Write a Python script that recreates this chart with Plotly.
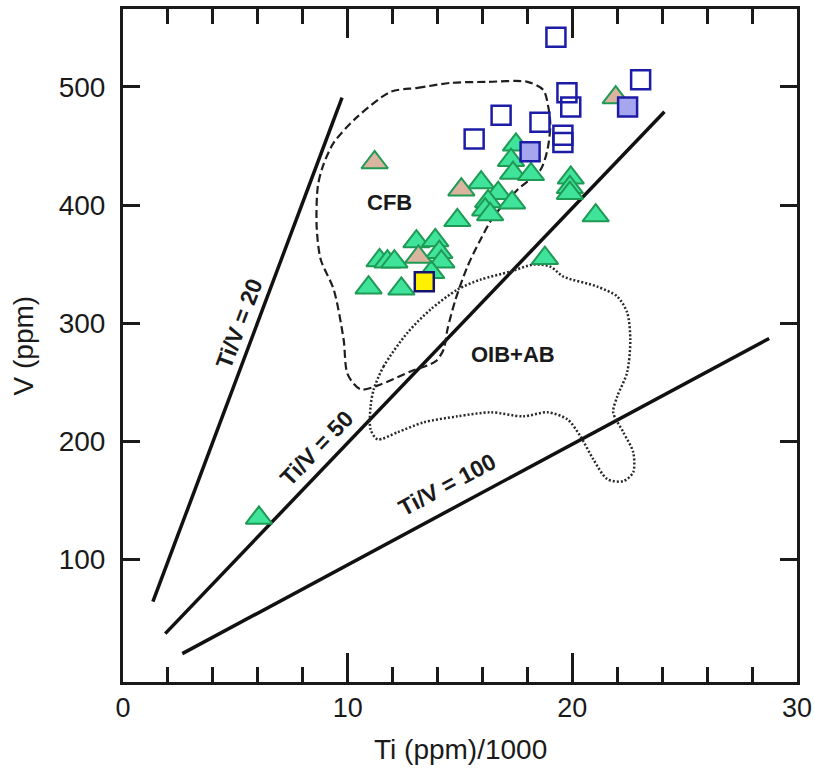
import plotly.graph_objects as go

# ---- data ----
green_x = [17.49, 17.27, 17.36, 18.16, 15.94, 16.70, 16.25, 17.32, 16.12, 16.34,
           19.93, 19.89, 19.89, 21.04, 14.88, 18.78, 13.06, 13.90, 14.08, 14.17,
           11.42, 11.77, 12.08, 10.93, 12.39, 13.72, 6.05]
green_y = [451, 438, 427, 426, 419, 410, 403, 402, 396, 392,
           423, 415, 410, 391, 387, 355, 369, 370, 360, 352,
           353, 352, 352, 330, 329, 343, 135]

tan_x = [11.20, 15.06, 13.15, 21.93]
tan_y = [436, 413, 356, 491]

open_sq_x = [19.27, 16.83, 15.63, 18.56, 19.76, 19.93, 19.58, 19.58, 23.04]
open_sq_y = [542, 476, 456, 470, 495, 483, 459, 453, 506]

fill_sq_x = [18.12, 22.46]
fill_sq_y = [445, 483]

yellow_x = [13.41]
yellow_y = [335]

# reference lines Ti/V = const (end points)
ratio_labels = ["Ti/V = 20", "Ti/V = 50", "Ti/V = 100"]
ratio_x = [[1.33, 9.75], [1.88, 24.10], [2.64, 28.76]]
ratio_y = [[64, 491], [37, 479], [20, 287]]

# field boundaries
cfb_x = [11.91, 13.11, 14.58, 16.22, 18.00, 18.71, 18.93, 19.02, 18.89, 18.58,
         17.56, 16.49, 15.91, 15.33, 14.80, 14.44, 14.27, 13.91, 12.80, 11.47,
         10.58, 10.00, 9.82, 9.38, 8.80, 8.62, 8.67, 8.89, 9.38, 10.44, 11.91]
cfb_y = [495.8, 499.2, 503.4, 504.3, 504.3, 497.5, 483.1, 467.9, 446.7, 429.8,
         412.9, 390.1, 370.6, 347.8, 319.9, 294.5, 277.6, 267.5, 259.0, 248.0,
         243.8, 256.5, 286.1, 328.4, 353.8, 381.7, 415.6, 432.5, 452.8, 474.8, 495.8]

oib_x = [11.16, 11.60, 12.67, 13.69, 14.89, 15.91, 17.24, 18.27, 19.02, 19.60,
         21.11, 22.00, 22.44, 22.58, 22.44, 22.00, 21.82, 22.27, 22.71, 22.71,
         22.27, 21.56, 20.93, 20.36, 19.78, 18.89, 17.82, 16.36, 14.89, 13.38,
         12.22, 11.33, 11.02, 11.02, 11.16]
oib_y = [243.8, 263.3, 292.0, 311.5, 328.4, 336.8, 343.6, 349.5, 347.8, 339.4,
         330.9, 322.5, 309.0, 286.1, 258.2, 237.9, 224.4, 207.5, 190.6, 173.7,
         166.1, 167.8, 184.7, 204.1, 218.5, 224.4, 221.0, 224.4, 221.0, 215.9,
         207.5, 201.5, 210.0, 229.4, 243.8]

x_ticks = [0, 10, 20, 30]
y_ticks = [100, 200, 300, 400, 500]

FONT = "Liberation Sans, Arial, Helvetica, sans-serif"
INK = "#1a1a1a"

fig = go.Figure()

for lx, ly in zip(ratio_x, ratio_y):
    fig.add_trace(go.Scatter(x=lx, y=ly, mode="lines",
                             line=dict(color="#111111", width=3.5),
                             hoverinfo="skip", showlegend=False))

fig.add_trace(go.Scatter(x=cfb_x, y=cfb_y, mode="lines",
                         line=dict(color="#1e1e1e", width=2.2, dash="8px,4px", shape="spline", smoothing=0.8),
                         showlegend=False))
fig.add_trace(go.Scatter(x=oib_x, y=oib_y, mode="lines",
                         line=dict(color="#2a2a2a", width=2.5, dash="2px,2px", shape="spline", smoothing=0.8),
                         showlegend=False))

tri_line = dict(color="#1f9a55", width=2)
fig.add_trace(go.Scatter(x=green_x, y=green_y, mode="markers",
                         marker=dict(symbol="triangle-up", size=23, color="#3fe39a", line=tri_line),
                         showlegend=False))
fig.add_trace(go.Scatter(x=tan_x, y=tan_y, mode="markers",
                         marker=dict(symbol="triangle-up", size=23, color="#d9b49e", line=tri_line),
                         showlegend=False))
sq_line = dict(color="#1c1ca6", width=2.5)
fig.add_trace(go.Scatter(x=open_sq_x, y=open_sq_y, mode="markers",
                         marker=dict(symbol="square", size=19, color="rgba(255,255,255,0)", line=sq_line),
                         showlegend=False))
fig.add_trace(go.Scatter(x=fill_sq_x, y=fill_sq_y, mode="markers",
                         marker=dict(symbol="square", size=19, color="#a6a6ee", line=sq_line),
                         showlegend=False))
fig.add_trace(go.Scatter(x=yellow_x, y=yellow_y, mode="markers",
                         marker=dict(symbol="square", size=19, color="#fff000",
                                     line=dict(color="#141470", width=2.5)),
                         showlegend=False))

annotations = [
    dict(x=11.84, y=402, text="<b>CFB</b>", font=dict(size=22)),
    dict(x=17.36, y=273, text="<b>OIB+AB</b>", font=dict(size=22)),
    dict(x=5.18, y=300, text="<b>" + ratio_labels[0] + "</b>", textangle=-69.4, font=dict(size=23)),
    dict(x=8.63, y=194, text="<b>" + ratio_labels[1] + "</b>", textangle=-46.2, font=dict(size=23)),
    dict(x=14.4, y=163, text="<b>" + ratio_labels[2] + "</b>", textangle=-28.1, font=dict(size=23)),
]
for a in annotations:
    a.update(xref="x", yref="y", showarrow=False)
    a["font"].update(family=FONT, color=INK)

annotations.append(dict(xref="paper", yref="paper", x=0.5, y=-0.1, text="Ti (ppm)/1000",
                        showarrow=False, font=dict(family=FONT, size=28, color=INK),
                        xanchor="center", yanchor="middle"))
annotations.append(dict(xref="paper", yref="paper", x=-0.147, y=0.5, text="V (ppm)", textangle=-90,
                        showarrow=False, font=dict(family=FONT, size=28, color=INK),
                        xanchor="center", yanchor="middle"))

fig.update_layout(
    width=814, height=769,
    margin=dict(l=123, r=17, t=9, b=87, autoexpand=False),
    paper_bgcolor="white", plot_bgcolor="white",
    annotations=annotations,
    font=dict(family=FONT, color=INK),
)
fig.update_xaxes(range=[0, 30], tickvals=x_ticks, ticktext=[str(v) for v in x_ticks],
                 ticks="inside", ticklen=29, tickwidth=2.5, tickcolor=INK,
                 minor=dict(dtick=2, ticks="inside", ticklen=15, tickwidth=2.5, tickcolor=INK),
                 showline=True, linewidth=3, linecolor=INK, mirror="ticks",
                 showgrid=False, zeroline=False, ticklabelstandoff=0,
                 ticklabeloverflow="allow", automargin=False,
                 tickfont=dict(size=27, family=FONT, color=INK))
fig.update_yaxes(range=[-4, 566], tickvals=y_ticks, ticktext=[str(v) for v in y_ticks],
                 ticks="inside", ticklen=17, tickwidth=2.5, tickcolor=INK,
                 showline=True, linewidth=3, linecolor=INK, mirror="ticks",
                 showgrid=False, zeroline=False, ticklabelstandoff=9, automargin=False,
                 tickfont=dict(size=28, family=FONT, color=INK))

fig.write_html("out.html")
